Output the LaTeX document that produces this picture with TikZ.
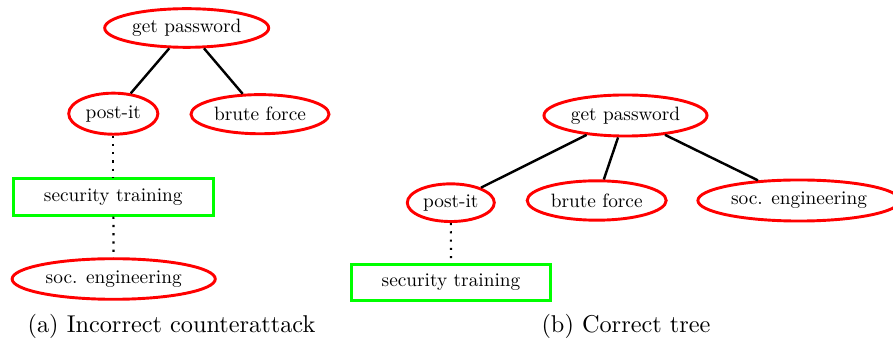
\documentclass[tikz,border=0pt]{standalone}
\usepackage{graphicx}
\usetikzlibrary{shapes.geometric}
\newcommand{\lbl}[1]{\scalebox{0.795}{#1}}
\tikzset{
  attack/.style 2 args={ellipse, draw=red, line width=1.2pt, inner sep=0pt, minimum width=#1, minimum height=#2, font=\normalsize},
  defense/.style 2 args={rectangle, draw=green, line width=1.2pt, inner sep=0pt, minimum width=#1, minimum height=#2, font=\normalsize},
  solidedge/.style={line width=1pt},
  dotedge/.style={line width=0.9pt, dash pattern=on 0.9pt off 2.5pt},
  caption/.style={font=\normalsize}
}
\begin{document}
\begin{tikzpicture}[x=0.41152pt, y=-0.41152pt]
\useasboundingbox (0,0) rectangle (893,341);
% (a)
\node[attack={67.5pt}{15.9pt}] (a1) at (186.7,28) {\lbl{get password}};
\node[attack={36.7pt}{16.9pt}] (a2) at (113.3,113.7) {\lbl{post-it}};
\node[attack={56.8pt}{16.1pt}] (a3) at (260,114.2) {\lbl{brute force}};
\node[defense={82.5pt}{15pt}] (a4) at (113.3,197) {\lbl{security training}};
\node[attack={83.6pt}{16.7pt}] (a5) at (113.7,279) {\lbl{soc. engineering}};
\draw[solidedge] (a1) -- (a2);
\draw[solidedge] (a1) -- (a3);
\draw[dotedge] (a2) -- (a4);
\draw[dotedge] (a4) -- (a5);
\node[caption] (ca) at (171.5,326) {(a) Incorrect counterattack};
% (b)
\node[attack={67.1pt}{16.9pt}] (b1) at (625.5,115.5) {\lbl{get password}};
\node[attack={35.8pt}{15.5pt}] (b2) at (450.8,202.7) {\lbl{post-it}};
\node[attack={57.2pt}{16.2pt}] (b3) at (596.7,200.5) {\lbl{brute force}};
\node[attack={83.2pt}{16.9pt}] (b4) at (799,200.5) {\lbl{soc. engineering}};
\node[defense={81.9pt}{14.6pt}] (b5) at (451,282.5) {\lbl{security training}};
\draw[solidedge] (b1) -- (b2);
\draw[solidedge] (b1) -- (b3);
\draw[solidedge] (b1) -- (b4);
\draw[dotedge] (b2) -- (b5);
\node[caption] (cb) at (626,326) {(b) Correct tree};
\end{tikzpicture}
\end{document}
